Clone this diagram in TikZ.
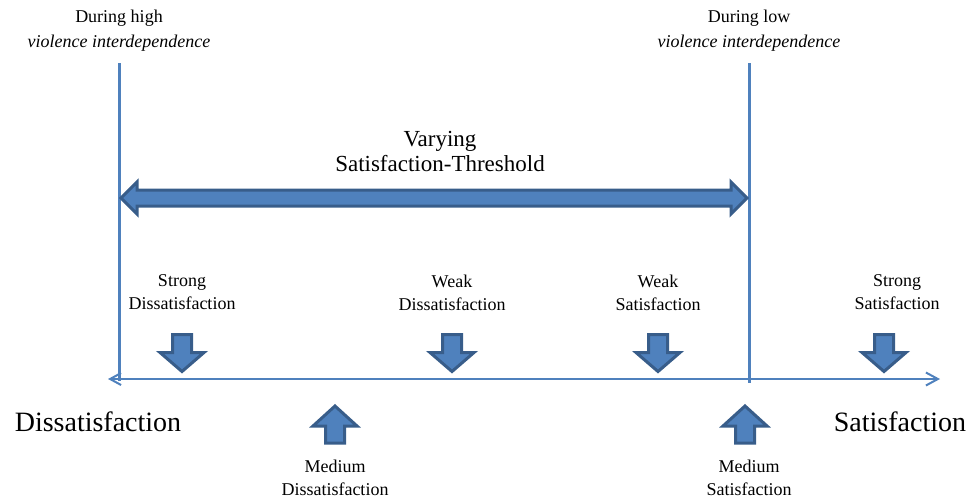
\documentclass[tikz,border=0pt]{standalone}
\usepackage{fontspec}
\setmainfont{Liberation Serif}
\usetikzlibrary{arrows.meta}
\definecolor{lineblue}{RGB}{79,129,189}
\definecolor{darkblue}{RGB}{56,93,138}
\tikzset{
  vline/.style={draw=lineblue, line width=3pt},
  axisline/.style={draw=lineblue, line width=2pt, {Straight Barb[length=11pt,width=12pt]}-{Straight Barb[length=12pt,width=13pt]}},
  arrowbody/.style={fill=lineblue, draw=darkblue, line width=3pt, line join=miter},
  lbl/.style={align=center, inner sep=0pt, font=\fontsize{18}{23}\selectfont},
  toplbl/.style={align=center, inner sep=0pt, font=\fontsize{18}{25}\selectfont},
  biglbl/.style={inner sep=0pt, font=\fontsize{28}{32}\selectfont},
  midlbl/.style={align=center, inner sep=0pt, font=\fontsize{23}{25}\selectfont},
  pics/dnarrow/.style={code={\draw[arrowbody] (-9.5,0)--(9.5,0)--(9.5,18)--(22,18)--(0,37)--(-22,18)--(-9.5,18)--cycle;}},
  pics/uparrow/.style={code={\draw[arrowbody] (0,0)--(22,20)--(9.5,20)--(9.5,37)--(-9.5,37)--(-9.5,20)--(-22,20)--cycle;}}
}
\begin{document}
\begin{tikzpicture}[x=1pt,y=-1pt]
\useasboundingbox (0,0) rectangle (976,499);

% vertical lines
\coordinate (lt) at (119,63);
\coordinate (lb) at (119,381);
\coordinate (rt) at (749,63);
\coordinate (rb) at (749,383);
\draw[vline] (lt) -- (lb);
\draw[vline] (rt) -- (rb);

% axis
\coordinate (axl) at (108,379);
\coordinate (axr) at (940,379);
\draw[axisline] (axl) -- (axr);

% big double arrow
\draw[arrowbody] (121,198) -- (137,182) -- (137,190) -- (731,190) -- (731,182) -- (747,198)
  -- (731,214) -- (731,206) -- (137,206) -- (137,214) -- cycle;

% top labels
\node[toplbl] (high) at (119,30.5) {During high\\\textit{violence interdependence}};
\node[toplbl] (low) at (749,30.5) {During low\\\textit{violence interdependence}};
\node[midlbl] (vary) at (440,151) {Varying\\Satisfaction-Threshold};

% down arrows
\pic at (182,334.5) {dnarrow};
\pic at (452,334.5) {dnarrow};
\pic at (658,334.5) {dnarrow};
\pic at (884,334.5) {dnarrow};

% up arrows
\pic at (335,406) {uparrow};
\pic at (745,406) {uparrow};

% labels
\node[lbl] (sd) at (182,292.5) {Strong\\Dissatisfaction};
\node[lbl] (wd) at (452,292.5) {Weak\\Dissatisfaction};
\node[lbl] (ws) at (658,292.5) {Weak\\Satisfaction};
\node[lbl] (ss) at (897,292.5) {Strong\\Satisfaction};
\node[lbl] (md) at (335,477.5) {Medium\\Dissatisfaction};
\node[lbl] (ms) at (749,477.5) {Medium\\Satisfaction};

\node[biglbl] (dis) at (98,422) {Dissatisfaction};
\node[biglbl] (sat) at (900,422) {Satisfaction};
\end{tikzpicture}
\end{document}
